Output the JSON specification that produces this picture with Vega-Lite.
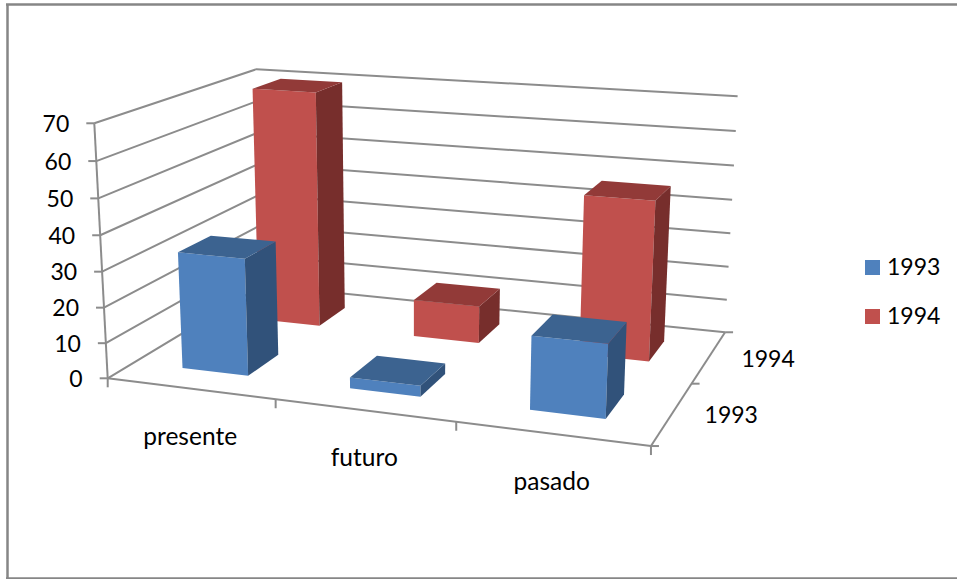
{
"$schema":"https://vega.github.io/schema/vega-lite/v6.json",
"width":957,"height":579,"padding":0,"autosize":{"type":"none"},
"background":"white","view":{"stroke":null},
"datasets":{
"barras":[
{"categoria":"presente","anio":"1994","valor":70},
{"categoria":"futuro","anio":"1994","valor":11},
{"categoria":"pasado","anio":"1994","valor":46},
{"categoria":"presente","anio":"1993","valor":33},
{"categoria":"futuro","anio":"1993","valor":3},
{"categoria":"pasado","anio":"1993","valor":20}
],
"escala":[{"valor":0},{"valor":10},{"valor":20},{"valor":30},{"valor":40},{"valor":50},{"valor":60},{"valor":70}],
"cats":[{"categoria":"presente","i":0},{"categoria":"futuro","i":1},{"categoria":"pasado","i":2}],
"anios":[{"anio":"1993","i":0},{"anio":"1994","i":1}],
"marco":[{"lado":"izquierdo"},{"lado":"arriba"},{"lado":"abajo"}]
},
"encoding":{
"x":{"field":"px","type":"quantitative","scale":{"domain":[0,957],"range":[0,957],"nice":false,"zero":false},"axis":null},
"y":{"field":"py","type":"quantitative","scale":{"domain":[0,579],"range":[0,579],"nice":false,"zero":false},"axis":null}
},
"layer":[
{"data":{"name":"marco"},
"transform":[
{"calculate":"datum.lado=='izquierdo'?7.5:6","as":"px"},
{"calculate":"datum.lado=='izquierdo'?7.5:957","as":"px2"},
{"calculate":"datum.lado=='abajo'?578.5:4.5","as":"py"},
{"calculate":"datum.lado=='arriba'?4.5:(datum.lado=='abajo'?578.5:579)","as":"py2"}
],
"mark":{"type":"rule","stroke":"#868686","strokeWidth":2.5},"encoding":{"x2":{"field":"px2"},"y2":{"field":"py2"}}},
{"data":{"name":"escala"},
"transform":[
{"calculate":"[0,1,2]","as":"pts"},{"flatten":["pts"],"as":["pt"]},
{"calculate":"datum.pt==2?1:0","as":"U"},{"calculate":"datum.pt==0?0:1","as":"W"},{"calculate":"datum.valor/70","as":"H"},
{"calculate":"(107.7+474.9*datum.U+204.1*datum.W-17.36*datum.H)/(1-0.105*datum.U+0.19*datum.W-0.042*datum.H)","as":"px"},
{"calculate":"(378.3+20.9*datum.U-38.7*datum.W-260.2*datum.H)/(1-0.105*datum.U+0.19*datum.W-0.042*datum.H)","as":"py"}
],
"mark":{"type":"line","stroke":"#8c8c8c","strokeWidth":2},
"encoding":{"detail":{"field":"valor"},"order":{"field":"pt"}}},
{"data":{"values":[{"eje":"valor","U":0,"W":0,"H":0,"U2":0,"W2":0,"H2":1},{"eje":"categoria","U":0,"W":0,"H":0,"U2":1,"W2":0,"H2":0},{"eje":"anio","U":1,"W":0,"H":0,"U2":1,"W2":1,"H2":0}]},
"transform":[
{"calculate":"(107.7+474.9*datum.U+204.1*datum.W-17.36*datum.H)/(1-0.105*datum.U+0.19*datum.W-0.042*datum.H)","as":"px"},
{"calculate":"(378.3+20.9*datum.U-38.7*datum.W-260.2*datum.H)/(1-0.105*datum.U+0.19*datum.W-0.042*datum.H)","as":"py"},
{"calculate":"(107.7+474.9*datum.U2+204.1*datum.W2-17.36*datum.H2)/(1-0.105*datum.U2+0.19*datum.W2-0.042*datum.H2)","as":"px2"},
{"calculate":"(378.3+20.9*datum.U2-38.7*datum.W2-260.2*datum.H2)/(1-0.105*datum.U2+0.19*datum.W2-0.042*datum.H2)","as":"py2"}
],
"mark":{"type":"rule","stroke":"#8c8c8c","strokeWidth":2},
"encoding":{"x2":{"field":"px2"},"y2":{"field":"py2"}}},
{"data":{"name":"escala"},
"transform":[
{"calculate":"datum.valor/70","as":"H"},
{"calculate":"(107.7-17.36*datum.H)/(1-0.042*datum.H)","as":"px"},
{"calculate":"(378.3-260.2*datum.H)/(1-0.042*datum.H)","as":"py"},
{"calculate":"datum.px-8","as":"px2"}
],
"layer":[
{"mark":{"type":"rule","stroke":"#8c8c8c","strokeWidth":2},"encoding":{"x2":{"field":"px2"}}},
{"mark":{"type":"text","align":"right","baseline":"middle","dx":-25,"dy":1.5,"font":"Lato","fontSize":23,"fill":"black"},"encoding":{"text":{"field":"valor","type":"quantitative"}}}
]},
{"data":{"values":[{"k":0},{"k":1},{"k":2},{"k":3}]},
"transform":[
{"calculate":"datum.k/3","as":"U"},
{"calculate":"(107.7+474.9*datum.U)/(1-0.105*datum.U)","as":"px"},
{"calculate":"(378.3+20.9*datum.U)/(1-0.105*datum.U)","as":"py"},
{"calculate":"datum.py+9","as":"py2"}
],
"mark":{"type":"rule","stroke":"#8c8c8c","strokeWidth":2},"encoding":{"y2":{"field":"py2"}}},
{"data":{"values":[{"k":0},{"k":1},{"k":2}]},
"transform":[
{"calculate":"datum.k/2","as":"W"},
{"calculate":"(582.6+204.1*datum.W)/(0.895+0.19*datum.W)","as":"px"},
{"calculate":"(399.2-38.7*datum.W)/(0.895+0.19*datum.W)","as":"py"},
{"calculate":"datum.px+8","as":"px2"}
],
"mark":{"type":"rule","stroke":"#8c8c8c","strokeWidth":2},"encoding":{"x2":{"field":"px2"}}},
{"data":{"name":"cats"},
"transform":[
{"calculate":"(datum.i+0.5)/3","as":"U"},
{"calculate":"(107.7+474.9*datum.U)/(1-0.105*datum.U)","as":"px"},
{"calculate":"(378.3+20.9*datum.U)/(1-0.105*datum.U)","as":"py"}
],
"mark":{"type":"text","align":"center","baseline":"middle","dy":49,"font":"Lato","fontSize":24.5,"fill":"black"},
"encoding":{"text":{"field":"categoria"}}},
{"data":{"name":"anios"},
"transform":[
{"calculate":"(datum.i+0.5)/2","as":"W"},
{"calculate":"(582.6+204.1*datum.W)/(0.895+0.19*datum.W)","as":"px"},
{"calculate":"(399.2-38.7*datum.W)/(0.895+0.19*datum.W)","as":"py"}
],
"mark":{"type":"text","align":"center","baseline":"middle","dx":59,"dy":3,"font":"Lato","fontSize":23,"fill":"black"},
"encoding":{"text":{"field":"anio"}}},
{"data":{"name":"barras"},
"transform":[
{"calculate":"indexof(['presente','futuro','pasado'],datum.categoria)","as":"c"},
{"calculate":"datum.anio=='1993'?0:1","as":"d"},
{"calculate":"[0,1,2]","as":"caras"},{"flatten":["caras"],"as":["cara"]},
{"calculate":"[0,1,2,3]","as":"esqs"},{"flatten":["esqs"],"as":["esq"]},
{"calculate":"(datum.c+((datum.cara==1||datum.esq==1||datum.esq==2)?0.7:0.3))/3","as":"U"},
{"calculate":"(datum.d+((datum.cara==0)?0.3:(datum.cara==1?((datum.esq==1||datum.esq==2)?0.7:0.3):(datum.esq>=2?0.7:0.3))))/2","as":"W"},
{"calculate":"(datum.cara==2||datum.esq>=2)?datum.valor/70:0","as":"H"},
{"calculate":"(107.7+474.9*datum.U+204.1*datum.W-17.36*datum.H)/(1-0.105*datum.U+0.19*datum.W-0.042*datum.H)","as":"px"},
{"calculate":"(378.3+20.9*datum.U-38.7*datum.W-260.2*datum.H)/(1-0.105*datum.U+0.19*datum.W-0.042*datum.H)","as":"py"},
{"calculate":"datum.anio+(datum.cara==0?'':(datum.cara==1?' lado':' tapa'))","as":"tono"},
{"calculate":"datum.categoria+datum.anio+datum.cara","as":"id"}
],
"mark":{"type":"line","strokeWidth":0},
"encoding":{
"detail":{"field":"id"},
"order":{"field":"esq"},
"fill":{"field":"tono","type":"nominal","sort":null,
"scale":{"domain":["1993","1994","1993 lado","1994 lado","1993 tapa","1994 tapa"],"range":["#4f81bd","#c0504d","#31527a","#772e2c","#3c6390","#923a38"]},
"legend":{"values":["1993","1994"],"title":null,"orient":"none","legendX":861,"legendY":256,"symbolType":"square","symbolSize":225,"symbolStrokeWidth":0,"labelFont":"Lato","labelFontSize":23,"labelColor":"black","rowPadding":25,"labelOffset":3}}
}}
]
}
